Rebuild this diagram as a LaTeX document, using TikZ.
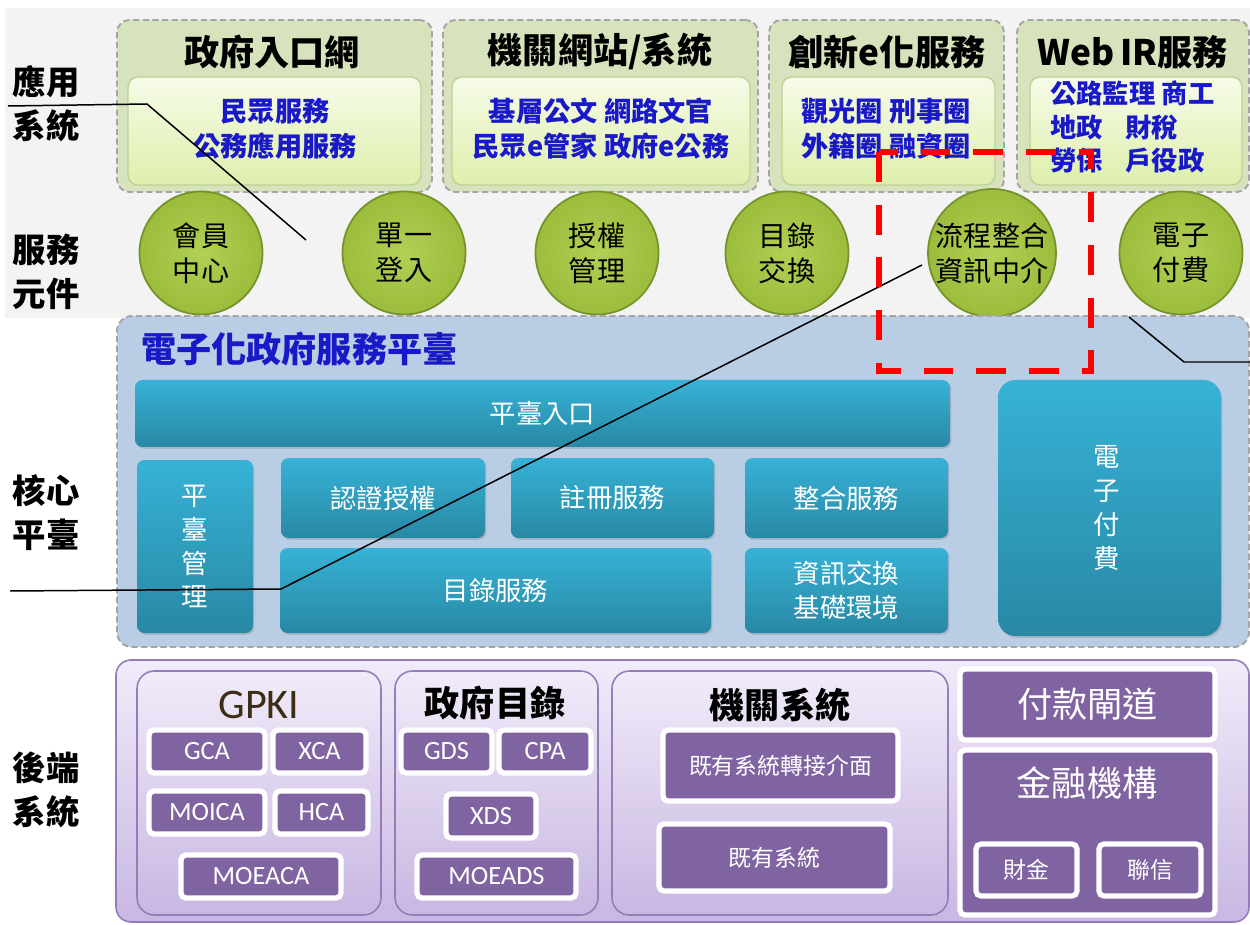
\documentclass[tikz,border=0pt]{standalone}
\usepackage{fontspec}
\setmainfont{Noto Sans CJK TC}
\newfontfamily\lat{Carlito}
\usetikzlibrary{shadows}
\definecolor{olivebg}{RGB}{214,227,188}
\definecolor{olivebd}{RGB}{165,165,165}
\definecolor{innerT}{RGB}{246,251,232}
\definecolor{innerB}{RGB}{222,239,172}
\definecolor{innerbd}{RGB}{190,210,150}
\definecolor{txtblue}{RGB}{25,25,200}
\definecolor{ballin}{RGB}{178,208,84}
\definecolor{ballout}{RGB}{156,188,60}
\definecolor{ballbd}{RGB}{118,146,42}
\definecolor{corebg}{RGB}{185,205,228}
\definecolor{tealT}{RGB}{55,178,214}
\definecolor{tealB}{RGB}{40,136,164}
\definecolor{purT}{RGB}{241,235,249}
\definecolor{purB}{RGB}{200,183,226}
\definecolor{purbd}{RGB}{150,125,185}
\definecolor{purbox}{RGB}{128,100,162}
\definecolor{gpkic}{RGB}{60,45,20}
\definecolor{topbg}{RGB}{243,243,243}
\newcommand\bx[7][]{\node[#1, minimum width={(#5-#3)*0.02cm}, minimum height={(#6-#4)*0.02cm}, inner sep=0pt, outer sep=0pt] (#2) at ({(#3+#5)/2},{(#4+#6)/2}) {#7};}
\newcommand\fsL{\fontsize{19}{25}\selectfont}
\newcommand\fsT{\fontsize{20}{24}\selectfont}
\newcommand\fsB{\fontsize{15.5}{20}\selectfont}
\newcommand\fsC{\fontsize{16}{20}\selectfont}
\newcommand\fsM{\fontsize{15}{19.3}\selectfont}
\newcommand\fsS{\fontsize{13}{16}\selectfont}
\newcommand\fsP{\fontsize{15}{18}\lat\selectfont}
\tikzset{
 outerbox/.style={draw=olivebd, line width=1.1pt, dash pattern=on 3.5pt off 2pt, fill=olivebg, rounded corners=0.25cm},
 innerbox/.style={draw=innerbd, line width=0.8pt, top color=innerT, bottom color=innerB, rounded corners=0.2cm},
 ttl/.style={font=\fsT\bfseries, text=black},
 bluetxt/.style={font=\fsB\bfseries, text=txtblue, align=center},
 ball/.style={circle, draw=ballbd, line width=1pt, inner color=ballin, outer color=ballout, minimum size=2.46cm, inner sep=0pt, font=\fsC, align=center, text=black},
 corebox/.style={draw=olivebd, line width=1.1pt, dash pattern=on 3.5pt off 2pt, fill=corebg, rounded corners=0.3cm},
 teal/.style={rounded corners=0.15cm, top color=tealT, bottom color=tealB, text=white, font=\fsM, align=center, drop shadow={opacity=0.3, shadow xshift=0.8pt, shadow yshift=-1pt}},
 grp/.style={draw=purbd, line width=0.9pt, top color=purT, bottom color=purB, rounded corners=0.35cm},
 pbox/.style={draw=white, line width=3pt, fill=purbox, text=white, rounded corners=0.1cm, font=\fsP, drop shadow={opacity=0.3, shadow xshift=0.8pt, shadow yshift=-1pt}},
 lbl/.style={font=\fsL\bfseries, align=center, text=black},
 annot/.style={draw=black, line width=0.85pt},
 reddash/.style={draw=red, line width=3.4pt, dash pattern=on 17pt off 13pt}
}
\begin{document}
\begin{tikzpicture}[x=0.02cm, y=-0.02cm]
\useasboundingbox (0,0) rectangle (1250,925);
\fill[white] (0,0) rectangle (1250,925);
\fill[topbg] (5,8) rectangle (1250,318);

% left labels
\node[lbl] (Lapp) at (46,104) {應用\\系統};
\node[lbl] (Lsvc) at (46,272) {服務\\元件};
\node[lbl] (Lcore) at (46,513) {核心\\平臺};
\node[lbl] (Lback) at (46,790) {後端\\系統};

% top application groups
\bx[outerbox]{g1}{117}{20}{432}{192}{}
\bx[innerbox]{g1i}{128}{77}{421}{185}{}
\node[ttl] (g1t) at (272,52) {政府入口網};
\node[bluetxt] (g1x) at (275,129) {民眾服務\\公務應用服務};

\bx[outerbox]{g2}{443}{20}{758}{192}{}
\bx[innerbox]{g2i}{452}{77}{750}{185}{}
\node[ttl] (g2t) at (600,52) {機關網站/系統};
\node[bluetxt] (g2x) at (601,129) {基層公文 網路文官\\民眾e管家 政府e公務};

\bx[outerbox]{g3}{769}{20}{1004}{192}{}
\bx[innerbox]{g3i}{782}{77}{995}{185}{}
\node[ttl] (g3t) at (887,52) {創新e化服務};
\node[bluetxt] (g3x) at (886,129) {觀光圈 刑事圈\\外籍圈 融資圈};

\bx[outerbox]{g4}{1017}{20}{1249}{192}{}
\bx[innerbox]{g4i}{1030}{77}{1242}{185}{}
\node[ttl] (g4t) at (1133,52) {Web\,IR服務};
\node[font=\fontsize{15}{19}\selectfont\bfseries, text=txtblue, align=left, anchor=west] (g4x) at (1044,127) {公路監理 商工\\\makebox[2.85em][l]{地政}財稅\\\makebox[2.85em][l]{勞保}戶役政};

% service components
\node[ball] (c1) at (201,253) {會員\\中心};
\node[ball] (c2) at (404,253) {單一\\登入};
\node[ball] (c3) at (597,253) {授權\\管理};
\node[ball] (c4) at (787,253) {目錄\\交換};
\node[ball] (c5) at (992,253) {流程整合\\資訊中介};
\node[ball] (c6) at (1181,253) {電子\\付費};

% core platform
\bx[corebox]{core}{117}{316}{1249}{647}{}
\node[font=\fsT\bfseries, text=txtblue, anchor=west] (coret) at (135,349) {電子化政府服務平臺};
\bx[teal]{p1}{135}{380}{950}{447}{平臺入口}
\bx[teal]{p2}{137}{460}{253}{633}{平\\臺\\管\\理}
\bx[teal]{p3}{281}{458}{485}{538}{認證授權}
\bx[teal]{p4}{511}{458}{714}{538}{註冊服務}
\bx[teal]{p5}{745}{458}{948}{538}{整合服務}
\bx[teal]{p6}{280}{548}{711}{633}{目錄服務}
\bx[teal]{p7}{745}{548}{948}{633}{資訊交換\\基礎環境}
\bx[teal, rounded corners=0.35cm]{p8}{998}{380}{1221}{636}{}
\node[font=\fsM, text=white, align=center] (p8t) at (1107,508) {電\\子\\付\\費};

% back-end systems
\bx[grp, rounded corners=0.3cm]{back}{116}{660}{1249}{922}{}
\bx[grp]{b1}{137}{671}{381}{915}{}
\node[font=\fontsize{24}{28}\lat\selectfont, text=gpkic] (b1t) at (259,705) {GPKI};
\bx[pbox]{gca}{149}{730}{265}{773}{GCA}
\bx[pbox]{xca}{273}{730}{366}{773}{XCA}
\bx[pbox]{moica}{149}{791}{265}{834}{MOICA}
\bx[pbox]{hca}{275}{791}{368}{834}{HCA}
\bx[pbox]{moeaca}{181}{855}{341}{898}{MOEACA}

\bx[grp]{b2}{395}{671}{598}{915}{}
\node[ttl] (b2t) at (495,703) {政府目錄};
\bx[pbox]{gds}{401}{730}{492}{773}{GDS}
\bx[pbox]{cpa}{499}{730}{591}{773}{CPA}
\bx[pbox]{xds}{446}{794}{536}{838}{XDS}
\bx[pbox]{moeads}{417}{855}{576}{898}{MOEADS}

\bx[grp]{b3}{612}{671}{948}{915}{}
\node[ttl] (b3t) at (780,705) {機關系統};
\bx[pbox, font=\fsS]{adp}{663}{730}{898}{801}{既有系統轉接介面}
\bx[pbox, font=\fsS]{exs}{659}{824}{890}{891}{既有系統}

\bx[pbox, font=\fsT]{gate}{960}{669}{1215}{740}{付款閘道}
\bx[pbox]{fin}{960}{750}{1215}{915}{}
\node[font=\fsT, text=white] (fint) at (1087,783) {金融機構};
\bx[pbox, font=\fsS]{cai}{976}{844}{1077}{896}{財金}
\bx[pbox, font=\fsS]{lian}{1099}{844}{1201}{896}{聯信}

% annotation lines
\coordinate (l1a) at (8,106);
\coordinate (l1b) at (147,104);
\coordinate (l1c) at (306,240);
\draw[annot] (l1a) -- (l1b) -- (l1c);
\coordinate (l2a) at (10,591);
\coordinate (l2b) at (281,589);
\coordinate (l2c) at (922,265);
\draw[annot] (l2a) -- (l2b) -- (l2c);
\coordinate (l3a) at (1129,317);
\coordinate (l3b) at (1184,362);
\coordinate (l3c) at (1250,362);
\draw[annot] (l3a) -- (l3b) -- (l3c);

% red dashed highlight
\coordinate (r1) at (879,152);
\coordinate (r2) at (1091,371);
\draw[reddash] (r1) rectangle (r2);
\end{tikzpicture}
\end{document}
